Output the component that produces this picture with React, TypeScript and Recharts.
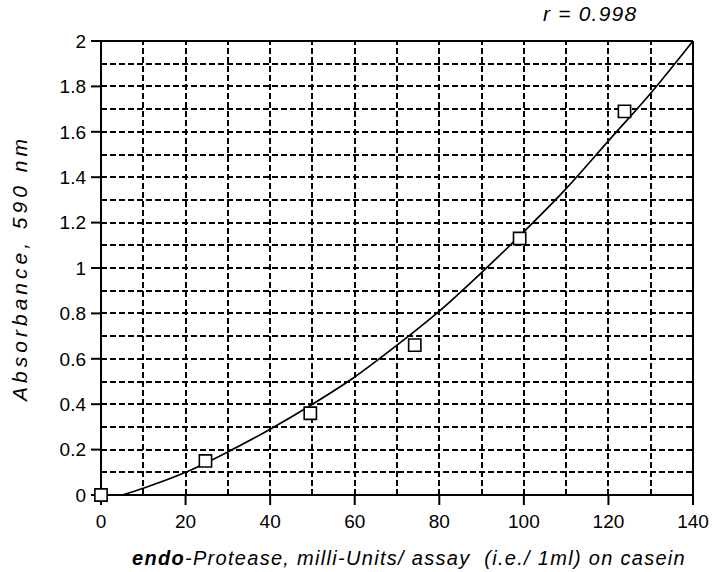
import React from "react";
import {
  ComposedChart,
  Line,
  Scatter,
  XAxis,
  YAxis,
  ZAxis,
  Label,
  ReferenceLine,
} from "recharts";

const measuredX = [0, 24.7, 49.5, 74.2, 99, 123.8];
const measuredY = [0, 0.15, 0.36, 0.66, 1.13, 1.69];

const fitX = [5, 10, 20, 30, 40, 50, 60, 70, 80, 90, 100, 110, 120, 130, 140];
const fitY = [0, 0.03, 0.1, 0.19, 0.29, 0.4, 0.52, 0.66, 0.81, 0.98, 1.16, 1.35, 1.56, 1.77, 2.0];

const xTicks = [0, 20, 40, 60, 80, 100, 120, 140];
const yTicks = [0, 0.2, 0.4, 0.6, 0.8, 1, 1.2, 1.4, 1.6, 1.8, 2];
const xGrid = [10, 20, 30, 40, 50, 60, 70, 80, 90, 100, 110, 120, 130];
const yGrid = [0.1, 0.2, 0.3, 0.4, 0.5, 0.6, 0.7, 0.8, 0.9, 1, 1.1, 1.2, 1.3, 1.4, 1.5, 1.6, 1.7, 1.8, 1.9];
const xMin = 0;
const xMax = 140;
const yMin = 0;
const yMax = 2;

const points = measuredX.map((x, i) => ({ x, y: measuredY[i], z: 1 }));
const curve = fitX.map((x, i) => ({ x, y: fitY[i] }));

const FONT = "'Liberation Sans', Arial, sans-serif";
const DASH = "6 3";

export default function App() {
  return (
    <div style={{ position: "absolute", left: 0, top: 0, width: 714, height: 572, fontFamily: FONT, background: "#fff" }}>
      <div
        style={{
          position: "absolute",
          left: 543,
          top: 1,
          fontSize: 21,
          fontStyle: "italic",
          letterSpacing: 1.2,
          color: "#000",
          whiteSpace: "pre",
          lineHeight: "26px",
        }}
      >
        r = 0.998
      </div>
      <ComposedChart
        width={714}
        height={572}
        margin={{ top: 41, right: 21, left: 0, bottom: 0 }}
        style={{ fontFamily: FONT }}
      >
        <XAxis
          type="number"
          dataKey="x"
          domain={[xMin, xMax]}
          ticks={xTicks}
          height={77}
          tickSize={10}
          tickMargin={10}
          stroke="#000"
          strokeWidth={2}
          tick={{ fill: "#000", fontSize: 19, fontFamily: FONT }}
        >
          <Label
            content={(props: any) => {
              const vb = props.viewBox || {};
              return (
                <text
                  x={vb.x + vb.width / 2 + 12}
                  y={vb.y + 70}
                  textAnchor="middle"
                  fontSize={20}
                  fontStyle="italic"
                  fontFamily={FONT}
                  letterSpacing={1.3}
                  fill="#000"
                  style={{ whiteSpace: "pre" }}
                >
                  <tspan fontWeight="bold">endo</tspan>
                  <tspan>-Protease, milli-Units/ assay  (i.e./ 1ml) on casein</tspan>
                </text>
              );
            }}
          />
        </XAxis>
        <YAxis
          type="number"
          dataKey="y"
          domain={[yMin, yMax]}
          ticks={yTicks}
          width={101}
          tickSize={10}
          tickMargin={5}
          stroke="#000"
          strokeWidth={2}
          tick={{ fill: "#000", fontSize: 19, fontFamily: FONT }}
        >
          <Label
            content={(props: any) => {
              const vb = props.viewBox || {};
              const cx = vb.x + 19;
              const cy = vb.y + vb.height / 2;
              return (
                <text
                  x={cx}
                  y={cy}
                  transform={`rotate(-90 ${cx} ${cy})`}
                  textAnchor="middle"
                  dominantBaseline="central"
                  fontSize={21}
                  fontStyle="italic"
                  fontFamily={FONT}
                  letterSpacing={4}
                  fill="#000"
                >
                  Absorbance, 590 nm
                </text>
              );
            }}
          />
        </YAxis>
        <ZAxis type="number" dataKey="z" range={[150, 150]} />
        {yGrid.map((v) => (
          <ReferenceLine
            key={"h" + v}
            y={v}
            stroke="#000"
            strokeWidth={2}
            strokeDasharray={DASH}
            shapeRendering="crispEdges"
          />
        ))}
        {xGrid.map((v) => (
          <ReferenceLine
            key={"v" + v}
            x={v}
            stroke="#000"
            strokeWidth={2}
            strokeDasharray={DASH}
            shapeRendering="crispEdges"
          />
        ))}
        <ReferenceLine y={yMax} stroke="#000" strokeWidth={2} shapeRendering="crispEdges" />
        <ReferenceLine x={xMax} stroke="#000" strokeWidth={2} shapeRendering="crispEdges" />
        <Line
          data={curve}
          dataKey="y"
          type="monotone"
          stroke="#000"
          strokeWidth={1.7}
          dot={false}
          activeDot={false}
          isAnimationActive={false}
        />
        <Scatter
          data={points}
          dataKey="y"
          shape="square"
          fill="#fff"
          stroke="#000"
          strokeWidth={1.6}
          isAnimationActive={false}
        />
      </ComposedChart>
    </div>
  );
}
